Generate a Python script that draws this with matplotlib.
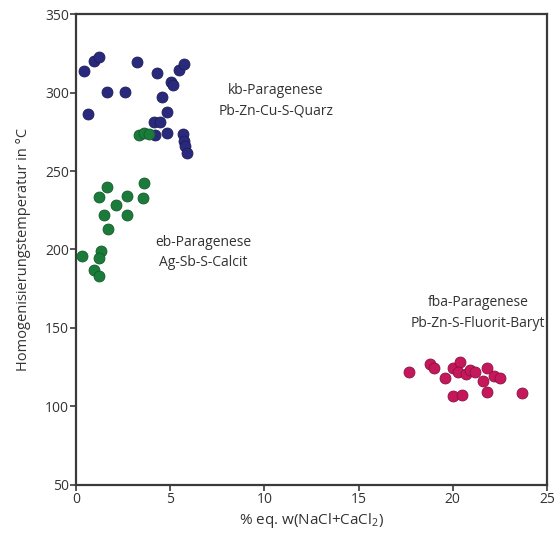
import matplotlib
matplotlib.use("Agg")
import matplotlib.pyplot as plt

plt.rcParams['font.family'] = ['Open Sans', 'DejaVu Sans']
plt.rcParams['mathtext.fontset'] = 'custom'
plt.rcParams['mathtext.rm'] = 'Open Sans'
plt.rcParams['mathtext.default'] = 'rm'

# kb-Paragenese (blue)
kb_x = [0.42, 0.96, 1.22, 3.24, 4.30, 1.65, 2.60, 5.04, 5.15, 5.49, 5.76, 0.64,
        4.56, 4.83, 4.14, 4.46, 4.19, 4.83, 5.68, 5.73, 5.79, 5.89]
kb_y = [313.7, 320.1, 322.6, 319.4, 312.4, 300.3, 300.3, 306.7, 304.8, 314.6, 318.2, 286.3,
        297.1, 287.6, 281.2, 281.2, 272.9, 274.2, 273.6, 269.1, 265.9, 261.5]

# eb-Paragenese (green)
eb_x = [1.65, 1.22, 2.71, 3.61, 3.56, 2.12, 1.49, 2.71, 1.70, 0.32, 1.33, 1.22, 0.96, 1.22,
        3.34, 3.61, 3.87]
eb_y = [239.8, 233.4, 234.1, 242.4, 232.8, 228.3, 222.0, 222.0, 213.1, 195.9, 199.0, 194.6, 186.9, 183.1,
        272.9, 274.2, 273.6]

# fba-Paragenese (pink)
fba_x = [17.7, 18.8, 19.0, 19.6, 20.0, 20.4, 20.3, 20.7, 20.9, 21.2, 21.8, 22.2, 22.5, 21.6,
         20.0, 20.5, 21.8, 23.7]
fba_y = [122.0, 127.0, 124.5, 118.0, 124.5, 128.3, 122.0, 120.7, 123.2, 122.0, 124.5, 119.4, 118.2, 116.2,
         106.7, 107.3, 109.2, 108.6]

x_ticks = [0, 5, 10, 15, 20, 25]
y_ticks = [50, 100, 150, 200, 250, 300, 350]

fig = plt.figure(figsize=(5.57, 5.35), dpi=100)
ax = fig.add_axes([0.1364, 0.0935, 0.8456, 0.8803])

ms = 62
ax.scatter(kb_x, kb_y, s=ms, c='#2a2a7c', edgecolors='#1c1c5a', linewidths=0.6, zorder=3)
ax.scatter(eb_x, eb_y, s=ms, c='#1b7b3a', edgecolors='#145c2b', linewidths=0.6, zorder=4)
ax.scatter(fba_x, fba_y, s=ms, c='#c4185a', edgecolors='#8e1042', linewidths=0.6, zorder=3)

ax.set_xlim(0, 25)
ax.set_ylim(50, 350)
ax.set_xticks(x_ticks)
ax.set_yticks(y_ticks)
for sp in ax.spines.values():
    sp.set_linewidth(1.6)
    sp.set_color('#3a3a3a')
ax.tick_params(direction='out', length=4, width=1.2, color='#3a3a3a',
               labelsize=10, labelcolor='#333333', pad=1)

ax.set_xlabel('% eq. w(NaCl+CaCl$_2$)', fontsize=11, color='#333333', labelpad=3)
ax.set_ylabel('Homogenisierungstemperatur in °C', fontsize=10.5, color='#333333', labelpad=10)

tk = dict(fontsize=10, color='#333333', ha='center', va='center', linespacing=1.5)
ax.text(10.6, 295, 'kb-Paragenese\nPb-Zn-Cu-S-Quarz', **tk)
ax.text(6.74, 198, 'eb-Paragenese\nAg-Sb-S-Calcit', **tk)
ax.text(21.35, 159.5, 'fba-Paragenese\nPb-Zn-S-Fluorit-Baryt', **tk)

fig.savefig('out.png', dpi=100)
